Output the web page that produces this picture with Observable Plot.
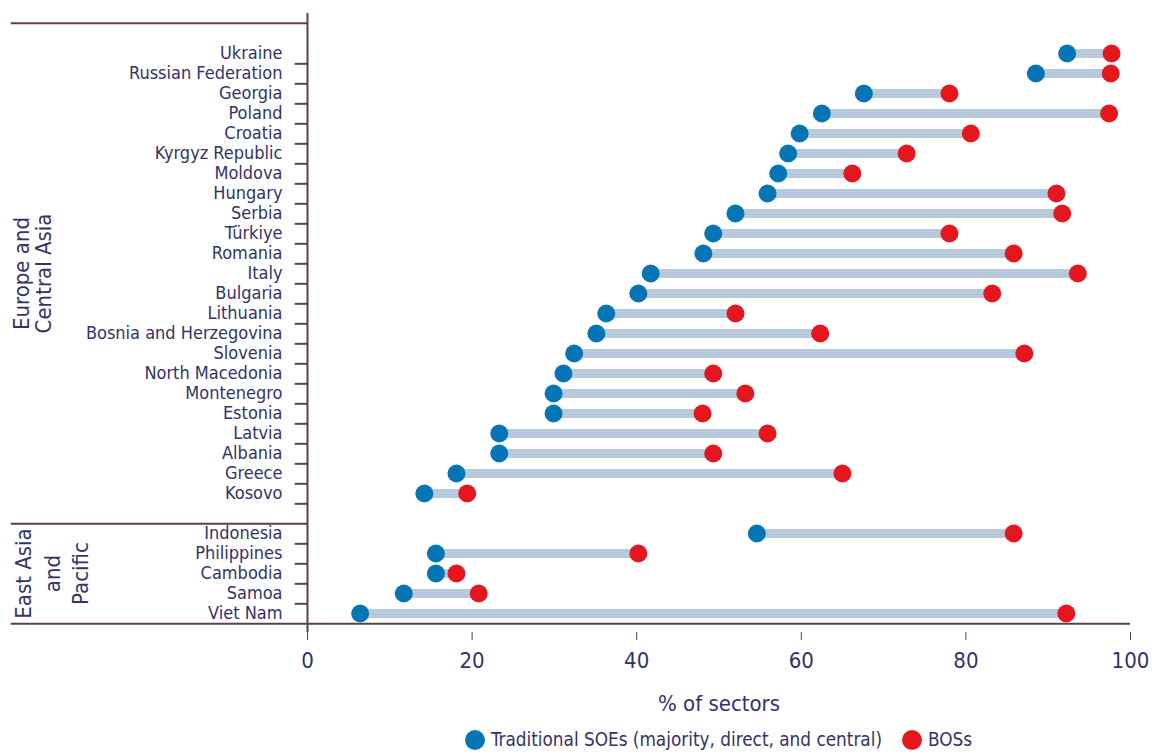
<!DOCTYPE html>
<html>
<head>
<meta charset="utf-8">
<script src="https://cdn.jsdelivr.net/npm/d3@7"></script>
<script src="https://cdn.jsdelivr.net/npm/@observablehq/plot@0.6"></script>
<style>
  body { margin: 0; background: #fff; }
  #chart { width: 1152px; }
  .legend { padding-left: 307px; width: 823px; text-align: center; margin-top: 5px;
    font-family: "DejaVu Sans Condensed", "Liberation Sans Narrow", sans-serif;
    font-size: 18.8px; color: #33326b; line-height: 26px; white-space: nowrap; }
  .legend span.sw { display: inline-block; width: 20px; height: 20px; border-radius: 50%; vertical-align: -4px; margin-right: 6px; }
  .legend span.item { margin: 0 10px; }
</style>
</head>
<body>
<div id="chart"></div>
<script>
const europeCountries = ["Ukraine", "Russian Federation", "Georgia", "Poland", "Croatia", "Kyrgyz Republic", "Moldova", "Hungary", "Serbia", "Türkiye", "Romania", "Italy", "Bulgaria", "Lithuania", "Bosnia and Herzegovina", "Slovenia", "North Macedonia", "Montenegro", "Estonia", "Latvia", "Albania", "Greece", "Kosovo"];
const europeSOE = [92.3, 88.5, 67.6, 62.5, 59.8, 58.4, 57.2, 55.9, 52.0, 49.3, 48.1, 41.7, 40.2, 36.3, 35.1, 32.4, 31.1, 29.9, 29.9, 23.3, 23.3, 18.1, 14.2];
const europeBOS = [97.7, 97.6, 78.0, 97.4, 80.6, 72.8, 66.2, 91.0, 91.7, 78.0, 85.8, 93.6, 83.2, 52.0, 62.3, 87.1, 49.3, 53.2, 48.0, 55.9, 49.3, 65.0, 19.4];
const asiaCountries = ["Indonesia", "Philippines", "Cambodia", "Samoa", "Viet Nam"];
const asiaSOE = [54.6, 15.6, 15.6, 11.7, 6.4];
const asiaBOS = [85.8, 40.2, 18.1, 20.8, 92.2];
const regionLabels = ["Europe and\nCentral Asia", "East Asia\nand\nPacific"];
const xTicks = [0, 20, 40, 60, 80, 100];
const seriesNames = ["Traditional SOEs (majority, direct, and central)", "BOSs"];
const seriesColors = ["#0675b6", "#e5161d"];

const rows = [
  ...europeCountries.map((c, i) => ({country: c, soe: europeSOE[i], bos: europeBOS[i]})),
  ...asiaCountries.map((c, i) => ({country: c, soe: asiaSOE[i], bos: asiaBOS[i]}))
];
const TOP = "_top", GAP = "_gap";
const yDomain = [TOP, ...europeCountries, GAP, ...asiaCountries];

const width = 1152, height = 722, marginTop = 13, marginBottom = 90, marginLeft = 307, marginRight = 22;
const bw = (height - marginTop - marginBottom) / yDomain.length;
const lineColor = "#5b3f4f", textColor = "#33326b";
const font = '"DejaVu Sans Condensed", "Liberation Sans Narrow", sans-serif';

const chart = Plot.plot({
  width, height, marginTop, marginBottom, marginLeft, marginRight,
  style: {fontFamily: font, fontSize: "18px", color: textColor, background: "#fff"},
  x: {domain: [0, 100]},
  y: {type: "band", domain: yDomain, padding: 0},
  marks: [
    Plot.ruleY(rows, {y: "country", x1: "soe", x2: "bos", stroke: "#b8c9db", strokeWidth: 9}),
    Plot.dot(rows, {y: "country", x: "soe", r: 9, fill: seriesColors[0]}),
    Plot.dot(rows, {y: "country", x: "bos", r: 9, fill: seriesColors[1]}),
    // frame lines
    Plot.ruleY([TOP], {x1: -36, x2: 0, dy: -bw / 2, stroke: lineColor, strokeWidth: 2}),
    Plot.ruleY([GAP], {x1: -36, x2: 0, dy: bw / 2, stroke: lineColor, strokeWidth: 2}),
    Plot.ruleY([asiaCountries[asiaCountries.length - 1]], {x1: -36, x2: 100, dy: bw / 2, stroke: lineColor, strokeWidth: 2}),
    Plot.ruleX([0], {stroke: lineColor, strokeWidth: 2}),
    // y ticks
    Plot.ruleY([...europeCountries, ...asiaCountries.slice(0, -1)], {x1: -1.5, x2: 0, dy: bw / 2, stroke: lineColor, strokeWidth: 2}),
    Plot.axisY({tickSize: 0, tickPadding: 25, tickFormat: d => d.startsWith("_") ? "" : d, fontSize: 18, fill: textColor, label: null}),
    Plot.axisX({ticks: xTicks, tickSize: 8, tickPadding: 12, fontSize: 22, stroke: lineColor, fill: textColor,
      label: "% of sectors", labelAnchor: "center", labelArrow: "none", labelOffset: 78}),
    Plot.text([regionLabels[0]], {x: [-33.4], y: [europeCountries[11]], text: d => d, rotate: -90,
      textAnchor: "middle", lineAnchor: "middle", lineHeight: 1.0, fontSize: 22, fill: textColor}),
    Plot.text([regionLabels[1]], {x: [-31.2], y: [asiaCountries[2]], text: d => d, rotate: -90,
      textAnchor: "middle", lineAnchor: "middle", lineHeight: 1.3, fontSize: 22, fill: textColor}),
  ]
});
document.getElementById("chart").appendChild(chart);

const legend = document.createElement("div");
legend.className = "legend";
legend.innerHTML = seriesNames.map((n, i) =>
  `<span class="item"><span class="sw" style="background:${seriesColors[i]}"></span>${n}</span>`).join("");
document.getElementById("chart").appendChild(legend);
</script>
</body>
</html>
